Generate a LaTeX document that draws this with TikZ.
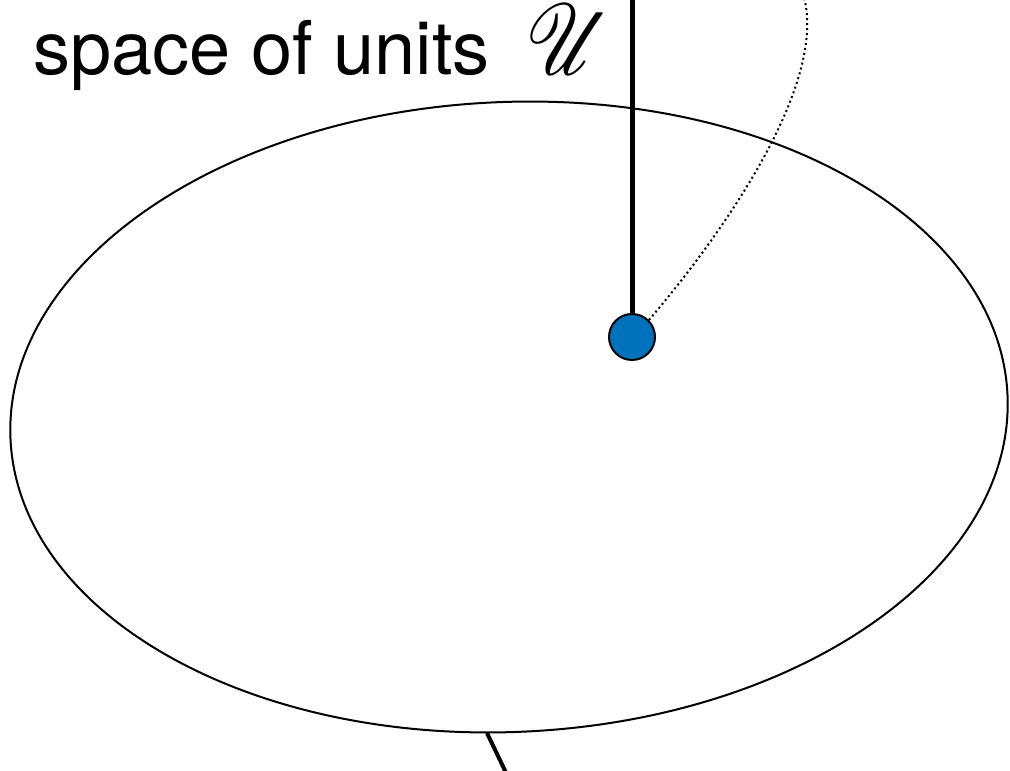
\documentclass[tikz,border=0pt]{standalone}
\usepackage{fontspec}
\setmainfont{TeX Gyre Heros}
\usepackage{graphicx}
\usepackage{mathrsfs}
\usetikzlibrary{positioning,calc}

\definecolor{unitblue}{RGB}{0,114,187}
\newcommand{\bigU}{{\fontsize{10}{12}\selectfont\scalebox{8}[10]{$\mathscr{U}$}}}

\begin{document}
\begin{tikzpicture}[
  x=1pt, y=1pt,
  every node/.style={font=\fontsize{74}{80}\selectfont},
  unitdot/.style={circle, draw, line width=2pt, fill=unitblue,
    minimum size=46pt, inner sep=0pt},
  stem/.style={line width=5pt},
  loopline/.style={line width=2pt, dash pattern=on 2pt off 3pt}
]
  % frame of the picture
  \useasboundingbox (0,0) rectangle (1010,771);
  \clip (0,0) rectangle (1010,771);

  % the space
  \draw[line width=2pt, rotate around={2.5:(509,354)}]
    (509,354) ellipse [x radius=499, y radius=315];

  % label
  \node (lbl) [anchor=base west, inner sep=0pt] at (33,696)
    {space of units\hspace{37pt}\bigU};

  % the unit and its lines
  \coordinate (top) at (632,790);
  \coordinate (loopend) at (798,790);
  \coordinate (stemtop) at (487,38);
  \coordinate (stembot) at (509,-8);

  \draw[stem] (632,434) -- (top);
  \node (unit) [unitdot] at (632,434) {};
  \draw[loopline] (unit.45) .. controls (730,546) and (840,706) .. (loopend);

  \draw[line width=4pt] (stemtop) -- (stembot);
\end{tikzpicture}
\end{document}
